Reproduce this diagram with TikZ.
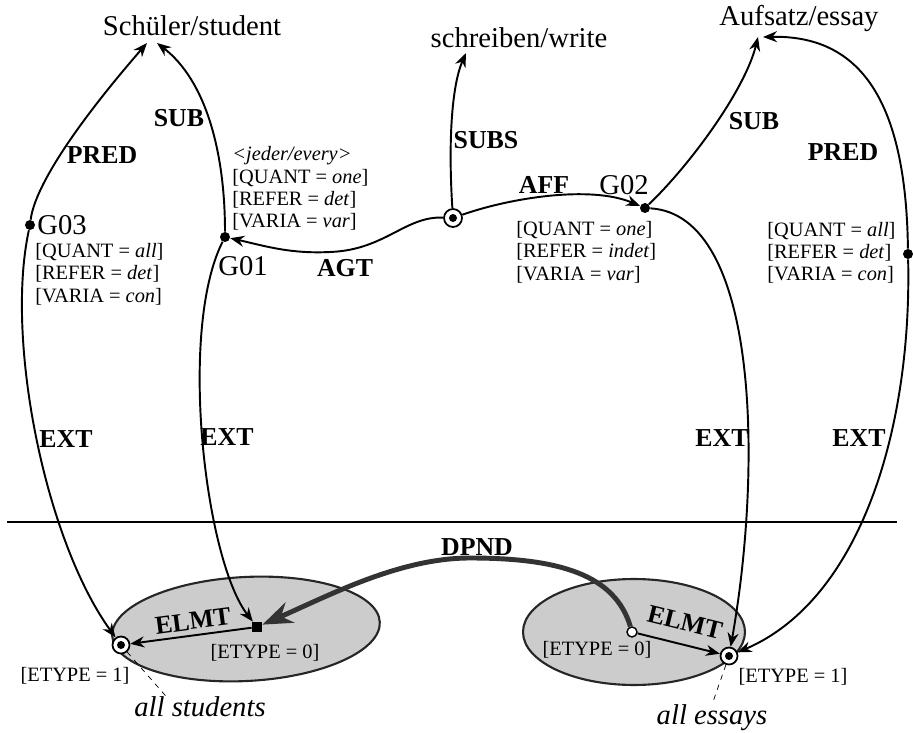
\documentclass[tikz,border=0pt]{standalone}
\usepackage{fontspec}
\setmainfont{Liberation Serif}
\usetikzlibrary{arrows.meta,shapes.geometric,positioning}

\newcommand{\fgrande}{\fontsize{16.3}{19}\selectfont}
\newcommand{\fmedio}{\fontsize{14.7}{17}\selectfont}
\newcommand{\fpiccolo}{\fontsize{11.6}{12.8}\selectfont}
\newcommand{\attr}[2]{[#1 = \textit{#2}]}

\tikzset{
  concetto/.style={font=\fgrande, inner sep=0pt},
  lab/.style={font=\fmedio\bfseries, inner sep=0pt},
  attrib/.style={font=\fpiccolo, align=left, inner sep=0pt, anchor=base west},
  etich/.style={font=\fpiccolo, inner sep=0pt},
  rel/.style={line width=1.1pt, -{Stealth[length=2.8mm,width=2.2mm]}},
  dip/.style={line width=2.8pt, draw=black!80, -{Stealth[length=6mm,width=4.4mm]}},
  punto/.style={circle, fill, inner sep=0pt, minimum size=0.2cm},
  elmt/.style={circle, draw, line width=1pt, fill=white, inner sep=0pt, minimum size=0.34cm,
    path picture={\fill[black] (path picture bounding box.center) circle (0.08cm);}},
  quad/.style={rectangle, fill, inner sep=0pt, minimum size=0.2cm},
  vuoto/.style={circle, draw, line width=0.8pt, fill=white, inner sep=0pt, minimum size=0.2cm},
  insieme/.style={ellipse, draw=black!85, line width=1.2pt, fill=black!20, inner sep=0pt}
}

\begin{document}
\begin{tikzpicture}[x=0.02cm,y=-0.02cm]
\useasboundingbox (0,0) rectangle (913,733);
%concetti
\node[concetto, anchor=base] (stud) at (192,36) {Schüler/student};
\node[concetto, anchor=base] (schr) at (519,48) {schreiben/write};
\node[concetto, anchor=base] (aufs) at (799,26) {Aufsatz/essay};
%insiemi estensionali
\node[insieme, minimum width=5.36cm, minimum height=2.08cm, rotate=3] (ins1) at (246,629) {};
\node[insieme, minimum width=4.44cm, minimum height=2.12cm] (ins2) at (634,632) {};
\draw[line width=1.1pt] (7,522) -- (897,522);
%nodi
\node[punto] (g03) at (30,225) {};
\node[punto] (g01) at (225,237) {};
\node[punto] (g02) at (645,208) {};
\node[punto] (g04) at (908,254) {};
\node[elmt, minimum size=0.36cm] (scr) at (453,218) {};
\node[elmt] (e1) at (121,645) {};
\node[quad] (e0) at (257,627) {};
\node[vuoto] (f0) at (632,632) {};
\node[elmt] (f1) at (729,656) {};
%nomi dei nodi e attributi (base = ultima riga)
\node[concetto] (tg03) at (62,225) {G03};
\node[concetto] (tg01) at (243,266) {G01};
\node[concetto] (tg02) at (624,185) {G02};
\node[attrib] (a03) at (35,302) {\attr{QUANT}{all}\\\attr{REFER}{det}\\\attr{VARIA}{con}};
\node[attrib] (a01) at (232,228) {\textit{<jeder/every>}\\\attr{QUANT}{one}\\\attr{REFER}{det}\\\attr{VARIA}{var}};
\node[attrib] (a02) at (516,280) {\attr{QUANT}{one}\\\attr{REFER}{indet}\\\attr{VARIA}{var}};
\node[attrib] (a04) at (767,281) {\attr{QUANT}{all}\\\attr{REFER}{det}\\\attr{VARIA}{con}};
%archi verso l'alto
\draw[rel] (g03) .. controls (35,185) and (80,120) .. ([shift={(-45,7)}]stud.base);
\draw[rel] (g01) .. controls (225,150) and (205,80) .. ([shift={(-35,7)}]stud.base);
\draw[rel] (scr) .. controls (448,140) and (452,85) .. ([shift={(-53,5)}]schr.base);
\draw[rel] (g02) .. controls (690,165) and (745,90) .. ([shift={(-41,11)}]aufs.base);
\draw[rel] (g04) .. controls (906,100) and (860,35) .. ([shift={(-36,11)}]aufs.base);
%AGT e AFF
\draw[rel] (scr) .. controls (405,216) and (385,250) .. (330,252) .. controls (290,254) and (265,246) .. (g01);
\draw[rel] (scr) .. controls (510,198) and (590,185) .. (g02);
%archi EXT
\draw[rel] (g03) .. controls (5,340) and (45,540) .. (e1);
\draw[rel] (g01) .. controls (178,330) and (205,560) .. (e0);
\draw[rel] (g02) .. controls (760,215) and (762,470) .. (f1);
\draw[rel] (g04) .. controls (912,430) and (860,600) .. (f1);
%ELMT e DPND
\draw[rel] (e0) -- (e1);
\draw[rel] (f0) -- (f1);
\draw[dip] (f0) .. controls (615,575) and (560,558) .. (470,558) .. controls (400,558) and (330,595) .. (e0);
%etichette degli archi
\node[lab] (lpred1) at (102,155) {PRED};
\node[lab] (lsub1) at (179,118) {SUB};
\node[lab] (lsubs) at (486,140) {SUBS};
\node[lab] (laff) at (544,185) {AFF};
\node[lab] (lagt) at (345,268) {AGT};
\node[lab] (lsub2) at (754,121) {SUB};
\node[lab] (lpred2) at (843,152) {PRED};
\node[lab] (lext1) at (66,439) {EXT};
\node[lab] (lext2) at (227,437) {EXT};
\node[lab] (lext3) at (722,438) {EXT};
\node[lab] (lext4) at (859,438) {EXT};
\node[lab] (ldpnd) at (477,547) {DPND};
\node[lab, rotate=7.5] (lelmt1) at (193,621) {ELMT};
\node[lab, rotate=-14] (lelmt2) at (685,622) {ELMT};
%tipi degli elementi
\node[etich] (t1) at (75,676) {[ETYPE = 1]};
\node[etich] (t0) at (265,653) {[ETYPE = 0]};
\node[etich] (t0b) at (597,650) {[ETYPE = 0]};
\node[etich] (t1b) at (793,677) {[ETYPE = 1]};
\node[concetto, font=\fgrande\itshape] (astud) at (200,707) {all students};
\node[concetto, font=\fgrande\itshape] (aess) at (712,718) {all essays};
\draw[thin, dashed] (e1) -- ([shift={(34,2)}]astud.north west);
\draw[thin, dashed] (f1) -- (aess.north);
\end{tikzpicture}
\end{document}
